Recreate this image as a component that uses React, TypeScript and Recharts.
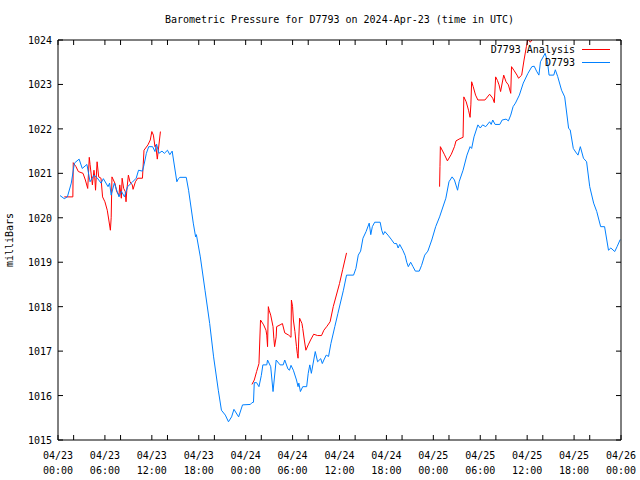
import React from 'react';
import { LineChart, Line, XAxis, YAxis } from 'recharts';

// hours since 2024-04-23 00:00 UTC
const stationHours = [
  0.26, 0.8, 1.2, 1.7, 2.1, 2.7, 3.1, 3.7, 4.1, 4.6, 5.0, 5.5, 5.8, 6.4, 6.6, 6.8, 7.2, 7.8, 8.1, 8.5,
  8.9, 9.5, 10.0, 10.3, 10.8, 11.0, 11.3, 11.6, 12.1, 12.4, 12.6, 12.9, 13.3, 13.6, 14.0, 14.3, 14.6, 15.2, 15.4, 15.6,
  16.4, 16.7, 17.3, 17.6, 17.7, 18.2, 18.8, 19.4, 19.9, 20.5, 20.9, 21.4, 21.8, 22.2, 22.5, 23.1, 23.6, 24.6, 24.8, 25.0,
  25.1, 25.4, 25.7, 26.0, 26.2, 26.7, 26.8, 27.2, 27.5, 27.9, 28.4, 28.8, 29.0, 29.4, 29.6, 29.8, 30.1, 30.5, 30.7, 30.8,
  31.0, 31.3, 31.8, 32.0, 32.2, 32.4, 32.9, 33.2, 33.6, 33.8, 34.0, 34.3, 34.6, 34.9, 35.4, 35.8, 36.5, 36.9, 37.8, 38.1,
  38.4, 38.7, 39.0, 39.4, 39.8, 40.0, 40.2, 40.5, 41.2, 41.4, 41.6, 41.8, 42.2, 42.6, 43.0, 43.3, 43.5, 43.7, 44.1, 44.4,
  44.6, 44.8, 45.1, 45.4, 45.7, 46.2, 46.5, 46.9, 47.3, 47.8, 48.3, 48.8, 49.6, 50.0, 50.4, 50.7, 51.1, 51.3, 51.8, 52.3,
  52.7, 52.9, 53.2, 53.7, 54.0, 54.3, 54.7, 55.2, 55.4, 55.6, 55.9, 56.5, 56.8, 57.3, 57.6, 57.9, 58.2, 58.5, 59.0, 59.5,
  60.1, 60.6, 60.9, 61.2, 61.5, 61.7, 62.3, 62.6, 62.8, 63.4, 63.6, 63.9, 64.4, 64.8, 65.3, 65.5, 65.9, 66.2, 66.5, 66.8,
  67.2, 67.6, 68.0, 68.5, 68.9, 69.4, 69.9, 70.4, 70.7, 71.2, 71.5, 71.9,
];
const stationPressure = [
  1020.5, 1020.43, 1020.47, 1020.78, 1021.23, 1021.32, 1021.11, 1021.2, 1020.81, 1020.96, 1020.9, 1020.78, 1020.88, 1020.7, 1020.78, 1020.51, 1020.78, 1020.47, 1020.6, 1020.47,
  1020.7, 1020.8, 1020.89, 1021.07, 1021.05, 1021.19, 1021.45, 1021.6, 1021.6, 1021.49, 1021.66, 1021.45, 1021.5, 1021.45, 1021.52, 1021.42, 1021.5, 1020.81, 1020.88, 1020.91,
  1020.91, 1020.62, 1019.88, 1019.57, 1019.62, 1019.12, 1018.37, 1017.62, 1016.87, 1016.12, 1015.67, 1015.56, 1015.41, 1015.52, 1015.69, 1015.52, 1015.79, 1015.8, 1015.84, 1015.85,
  1016.29, 1016.29, 1016.2, 1016.45, 1016.69, 1016.69, 1016.8, 1016.65, 1016.09, 1016.8, 1016.69, 1016.69, 1016.8, 1016.6, 1016.57, 1016.68, 1016.57, 1016.35, 1016.2, 1016.28,
  1016.09, 1016.2, 1016.2, 1016.5, 1016.69, 1016.5, 1016.99, 1016.76, 1016.83, 1016.72, 1016.8, 1016.91, 1016.88, 1017.17, 1017.55, 1017.85, 1018.37, 1018.71, 1018.71, 1018.86,
  1019.16, 1019.25, 1019.54, 1019.69, 1019.88, 1019.62, 1019.8, 1019.9, 1019.9, 1019.72, 1019.62, 1019.69, 1019.61, 1019.52, 1019.42, 1019.42, 1019.32, 1019.4, 1019.27, 1019.15,
  1019.0, 1018.9, 1019.0, 1018.9, 1018.8, 1018.8, 1018.93, 1019.16, 1019.25, 1019.5, 1019.8, 1020.02, 1020.44, 1020.81, 1020.92, 1020.85, 1020.62, 1020.81, 1021.07, 1021.41,
  1021.6, 1021.56, 1021.82, 1022.09, 1022.02, 1022.09, 1022.05, 1022.16, 1022.1, 1022.2, 1022.1, 1022.1, 1022.2, 1022.22, 1022.18, 1022.31, 1022.5, 1022.58, 1022.76, 1023.03,
  1023.25, 1023.4, 1023.41, 1023.3, 1023.21, 1023.51, 1023.7, 1023.51, 1023.21, 1023.21, 1023.33, 1023.18, 1022.87, 1022.72, 1022.01, 1021.98, 1021.56, 1021.48, 1021.41, 1021.6,
  1021.34, 1021.26, 1020.7, 1020.33, 1020.14, 1019.8, 1019.8, 1019.27, 1019.32, 1019.24, 1019.35, 1019.51,
];

// analysis runs, one per day
const analysisHours1 = [
  0.8, 1.9, 1.95, 2.3, 2.6, 3.2, 3.5, 3.8, 3.9, 4.0, 4.1, 4.4, 4.6, 4.7, 4.8, 5.0, 5.2, 5.5, 5.7, 6.0,
  6.3, 6.5, 6.7, 6.8, 6.9, 7.3, 7.5, 7.8, 7.9, 8.1, 8.2, 8.4, 8.6, 8.7, 8.8, 9.0, 9.2, 9.5, 9.6, 9.9,
  10.2, 10.8, 11.0, 11.5, 11.8, 12.0, 12.2, 12.4, 12.5, 12.7, 13.1,
];
const analysisPressure1 = [
  1020.47, 1020.47, 1021.24, 1021.15, 1021.04, 1021.0, 1020.85, 1020.66, 1021.0, 1021.36, 1021.2, 1020.74, 1021.07, 1020.92, 1020.62, 1021.26, 1020.92, 1020.89, 1020.47, 1020.36,
  1020.17, 1019.95, 1019.72, 1020.0, 1020.92, 1020.77, 1020.59, 1020.51, 1020.74, 1020.44, 1020.89, 1020.66, 1020.59, 1020.36, 1020.62, 1020.96, 1020.81, 1020.74, 1020.64, 1020.81,
  1020.89, 1020.89, 1021.52, 1021.64, 1021.75, 1021.94, 1021.86, 1021.6, 1021.64, 1021.32, 1021.94,
];
const analysisHours2 = [
  24.8, 25.1, 25.4, 25.7, 25.9, 26.3, 26.6, 26.7, 26.8, 26.9, 27.0, 27.2, 27.5, 27.6, 27.7, 27.9, 27.96, 28.4, 28.7, 29.0,
  29.5, 29.8, 29.85, 30.0, 30.1, 30.3, 30.5, 30.6, 30.7, 30.8, 30.9, 31.2, 31.3, 31.5, 31.7, 32.0, 32.3, 32.7, 33.2, 33.7,
  34.0, 34.4, 34.8, 35.2, 36.0, 36.4, 36.9,
];
const analysisPressure2 = [
  1016.25, 1016.35, 1016.54, 1016.72, 1017.7, 1017.59, 1017.47, 1017.36, 1017.1, 1018.0, 1017.92, 1017.81, 1017.55, 1017.29, 1017.1, 1017.32, 1017.55, 1017.59, 1017.62, 1017.41,
  1017.36, 1017.31, 1018.15, 1018.0, 1017.7, 1017.44, 1017.1, 1016.95, 1016.84, 1017.32, 1017.74, 1017.62, 1017.51, 1017.25, 1017.02, 1017.14, 1017.25, 1017.38, 1017.35, 1017.35,
  1017.47, 1017.56, 1017.66, 1018.0, 1018.52, 1018.83, 1019.21,
];
const analysisHours3 = [
  48.8, 48.85, 48.9, 49.4, 49.8, 50.3, 50.7, 50.9, 51.4, 51.8, 51.9, 52.2, 52.5, 52.7, 52.8, 52.9, 53.1, 53.4, 53.7, 54.6,
  55.2, 55.6, 55.8, 55.97, 56.2, 56.4, 56.6, 57.0, 57.3, 57.6, 57.9, 58.0, 58.3, 58.7, 58.9, 59.3, 59.6, 59.9, 60.1, 60.4,
  60.6, 60.9, 61.0,
];
const analysisPressure3 = [
  1020.7, 1021.15, 1021.6, 1021.43, 1021.28, 1021.43, 1021.6, 1021.73, 1021.78, 1021.81, 1022.72, 1022.61, 1022.42, 1022.26, 1022.54, 1023.06, 1022.95, 1022.76, 1022.65, 1022.65,
  1022.78, 1022.69, 1022.59, 1023.17, 1023.09, 1022.99, 1022.84, 1023.21, 1023.06, 1022.99, 1022.8, 1023.4, 1023.32, 1023.21, 1023.14, 1023.21, 1023.55, 1023.85, 1024.02, 1023.95,
  1024.0, 1024.05, 1024.3,
];

const xTicks = [0, 2, 6, 8, 12, 14, 18, 20, 24, 26, 30, 32, 36, 38, 42, 44, 48, 50, 54, 56, 60, 62, 66, 68, 72];
const dayLabels = ['04/23', '04/24', '04/25', '04/26'];
const yTicks = [1015, 1016, 1017, 1018, 1019, 1020, 1021, 1022, 1023, 1024];

const FONT = '"DejaVu Sans Mono", monospace';
const RED = '#ff0000';
const BLUE = '#0080ff';
const TICK = 5;

const toRows = (hours: number[], values: number[]) => hours.map((t, i) => ({ t, p: values[i] }));

const stationData = toRows(stationHours, stationPressure);
const analysis1 = toRows(analysisHours1, analysisPressure1);
const analysis2 = toRows(analysisHours2, analysisPressure2);
const analysis3 = toRows(analysisHours3, analysisPressure3);

const BottomTick = (props: any) => {
  const { x, y, payload } = props;
  const h = payload.value;
  const labelled = h % 6 === 0;
  const day = dayLabels[Math.floor(h / 24)];
  const hh = String(h % 24).padStart(2, '0') + ':00';
  return (
    <g>
      <line x1={x} y1={y} x2={x} y2={y - TICK} stroke="#000" />
      {labelled && (
        <text x={x} y={y} textAnchor="middle" fontFamily={FONT} fontSize={10} fill="#000">
          <tspan x={x} dy={19}>{day}</tspan>
          <tspan x={x} dy={15}>{hh}</tspan>
        </text>
      )}
    </g>
  );
};

const TopTick = (props: any) => {
  const { x, y } = props;
  return <line x1={x} y1={y} x2={x} y2={y + TICK} stroke="#000" />;
};

const LeftTick = (props: any) => {
  const { x, y, payload } = props;
  return (
    <g>
      <line x1={x} y1={y} x2={x + TICK} y2={y} stroke="#000" />
      <text x={x - 6} y={y} dy={4} textAnchor="end" fontFamily={FONT} fontSize={10} fill="#000">
        {payload.value}
      </text>
    </g>
  );
};

const RightTick = (props: any) => {
  const { x, y } = props;
  return <line x1={x} y1={y} x2={x - TICK} y2={y} stroke="#000" />;
};

export default function App() {
  return (
    <div style={{ position: 'relative', width: 640, height: 480, background: '#fff', fontFamily: FONT }}>
      <style>{`body { margin: 0; }`}</style>
      <div
        style={{
          position: 'absolute', left: 58, width: 563, top: 13, textAlign: 'center',
          fontSize: 10, lineHeight: '14px', color: '#000', whiteSpace: 'nowrap',
        }}
      >
        Barometric Pressure for D7793 on 2024-Apr-23 (time in UTC)
      </div>
      <div
        style={{
          position: 'absolute', left: 10, top: 240, fontSize: 10, lineHeight: '12px',
          transform: 'translate(-50%, -50%) rotate(-90deg)', whiteSpace: 'nowrap', color: '#000',
        }}
      >
        milliBars
      </div>
      <LineChart width={640} height={480} margin={{ top: 0, right: 0, bottom: 0, left: 0 }}>
        <XAxis
          dataKey="t"
          type="number"
          domain={[0, 72]}
          ticks={xTicks}
          interval={0}
          allowDataOverflow
          height={40}
          tickSize={0}
          tickMargin={0}
          tickLine={false}
          axisLine={{ stroke: '#000' }}
          tick={<BottomTick />}
        />
        <XAxis
          xAxisId="top"
          orientation="top"
          dataKey="t"
          type="number"
          domain={[0, 72]}
          ticks={xTicks}
          interval={0}
          allowDataOverflow
          height={40}
          tickSize={0}
          tickMargin={0}
          tickLine={false}
          axisLine={{ stroke: '#000' }}
          tick={<TopTick />}
        />
        <YAxis
          dataKey="p"
          type="number"
          domain={[1015, 1024]}
          ticks={yTicks}
          interval={0}
          allowDataOverflow
          width={58}
          tickSize={0}
          tickMargin={0}
          tickLine={false}
          axisLine={{ stroke: '#000' }}
          tick={<LeftTick />}
        />
        <YAxis
          yAxisId="right"
          orientation="right"
          dataKey="p"
          type="number"
          domain={[1015, 1024]}
          ticks={yTicks}
          interval={0}
          allowDataOverflow
          width={19}
          tickSize={0}
          tickMargin={0}
          tickLine={false}
          axisLine={{ stroke: '#000' }}
          tick={<RightTick />}
        />
        <Line data={analysis1} dataKey="p" type="linear" stroke={RED} strokeWidth={1} dot={false} isAnimationActive={false} />
        <Line data={analysis2} dataKey="p" type="linear" stroke={RED} strokeWidth={1} dot={false} isAnimationActive={false} />
        <Line data={analysis3} dataKey="p" type="linear" stroke={RED} strokeWidth={1} dot={false} isAnimationActive={false} />
        <Line data={stationData} dataKey="p" type="linear" stroke={BLUE} strokeWidth={1} dot={false} isAnimationActive={false} />
      </LineChart>
      <div style={{ position: 'absolute', right: 640 - 575, top: 43, fontSize: 10, lineHeight: '14px', whiteSpace: 'nowrap', color: '#000' }}>
        D7793 Analysis
      </div>
      <div style={{ position: 'absolute', left: 582, top: 49, width: 28, height: 1, background: RED }} />
      <div style={{ position: 'absolute', right: 640 - 575, top: 56, fontSize: 10, lineHeight: '14px', whiteSpace: 'nowrap', color: '#000' }}>
        D7793
      </div>
      <div style={{ position: 'absolute', left: 582, top: 62, width: 28, height: 1, background: BLUE }} />
    </div>
  );
}
